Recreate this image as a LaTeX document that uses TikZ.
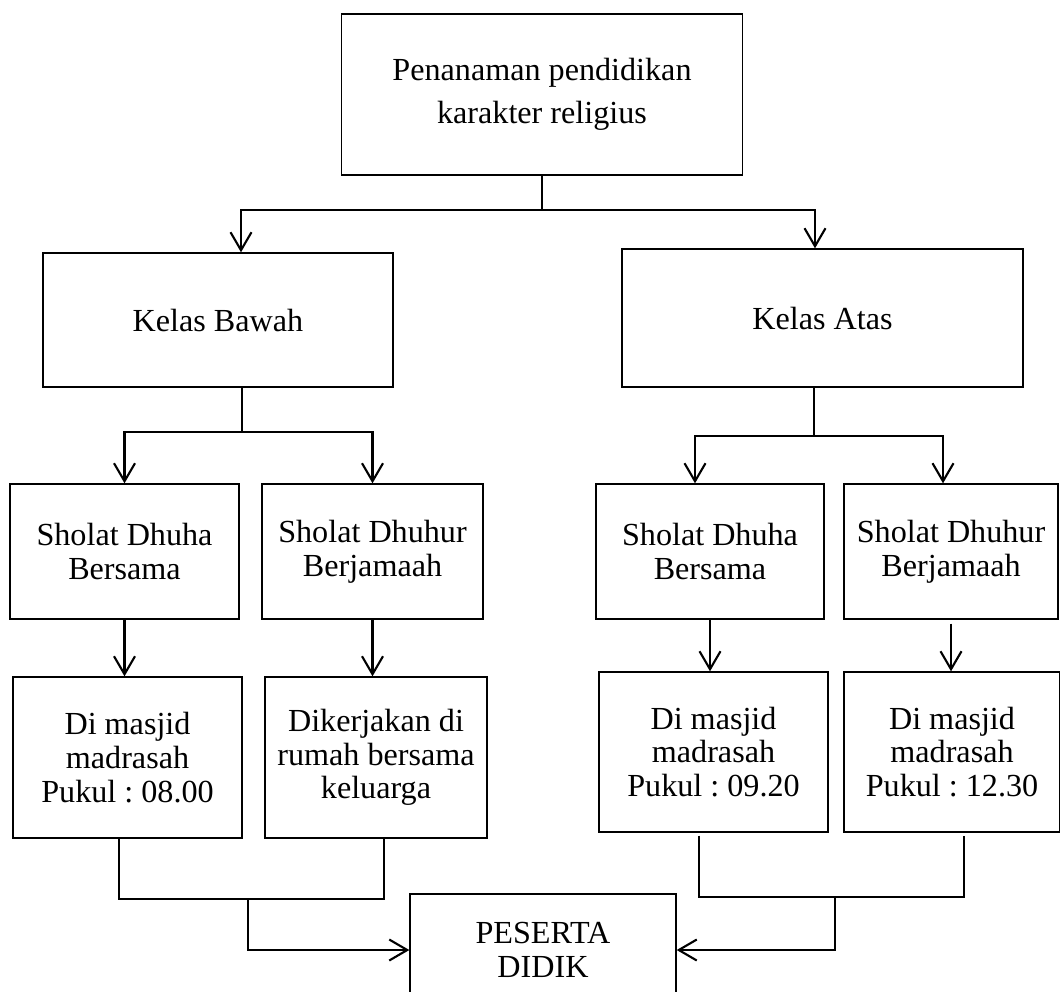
\documentclass[tikz,border=0pt]{standalone}
\usepackage{fontspec}
\setmainfont{Liberation Serif}
\frenchspacing
\usetikzlibrary{arrows.meta}

\begin{document}
\begin{tikzpicture}[x=0.02cm,y=-0.02cm,
  box/.style={draw,line width=0.8pt,align=center,inner sep=0pt,
    font=\fontsize{18.3}{19.2}\selectfont},
  line/.style={line width=1.2pt},
  arr/.style={line width=1.2pt,-{Straight Barb[length=0.36cm,width=0.42cm]}}]
\useasboundingbox (0,0) rectangle (1060,991);
% boxes
\node[box,minimum width=8.02cm,minimum height=3.22cm,font=\fontsize{18.3}{24.5}\selectfont] (top) at (542,94.5) {Penanaman pendidikan\\karakter religius};
\node[box,minimum width=7cm,minimum height=2.68cm] (kb) at (218,320) {Kelas Bawah};
\node[box,minimum width=8.02cm,minimum height=2.76cm] (ka) at (822.5,318) {Kelas Atas};
\node[box,minimum width=4.58cm,minimum height=2.7cm] (sdl) at (124.5,551.5) {Sholat Dhuha\\Bersama};
\node[box,minimum width=4.42cm,minimum height=2.7cm] (sjl) at (372.5,551.5) {Sholat Dhuhur\\Berjamaah};
\node[box,minimum width=4.56cm,minimum height=2.7cm] (sdr) at (710,551.5) {Sholat Dhuha\\Bersama};
\node[box,minimum width=4.28cm,minimum height=2.7cm] (sjr) at (951,551.5) {Sholat Dhuhur\\Berjamaah};
\node[box,minimum width=4.58cm,minimum height=3.22cm] (ml) at (127.5,757.5) {Di masjid\\madrasah\\Pukul : 08.00};
\node[box,minimum width=4.44cm,minimum height=3.22cm] (rl) at (376,757.5) {Dikerjakan di\\rumah bersama\\keluarga};
\node[box,minimum width=4.58cm,minimum height=3.2cm] (mr1) at (713.5,752) {Di masjid\\madrasah\\Pukul : 09.20};
\node[box,minimum width=4.32cm,minimum height=3.2cm] (mr2) at (952,752) {Di masjid\\madrasah\\Pukul : 12.30};
\node[box,minimum width=5.32cm,minimum height=2.24cm] (peserta) at (543,950) {PESERTA\\DIDIK};

% top split
\coordinate (t1) at (542,210);
\draw[line] (top.south) -- (t1);
\draw[arr] (t1) -| ([xshift=0.46cm]kb.north);
\draw[arr] (t1) -| ([xshift=-0.15cm]ka.north);

% kelas bawah split
\coordinate (b1) at (242,432);
\draw[line] (b1 |- kb.south) -- (b1);
\draw[arr] (b1) -| (sdl.north);
\draw[arr] (b1) -| (sjl.north);

% kelas atas split
\coordinate (a1) at (814,436);
\draw[line] (a1 |- ka.south) -- (a1);
\draw[arr] (a1) -| ([xshift=-0.3cm]sdr.north);
\draw[arr] (a1) -| ([xshift=-0.16cm]sjr.north);

% sholat to tempat
\draw[arr] (sdl.south) -- (sdl.south |- ml.north);
\draw[arr] (sjl.south) -- (sjl.south |- rl.north);
\draw[arr] (sdr.south) -- (sdr.south |- mr1.north);
\draw[arr] ([yshift=-0.08cm]sjr.south) -- (sjr.south |- mr2.north);

% join to peserta didik
\coordinate (c1) at (119,899);
\coordinate (c2) at (384,899);
\coordinate (c3) at (248,899);
\draw[line] (c1 |- ml.south) -- (c1) -- (c2) -- (c2 |- rl.south);
\draw[arr] (c3) |- (peserta);
\coordinate (c4) at (699,897);
\coordinate (c5) at (964,897);
\coordinate (c6) at (835,897);
\draw[line] ([yshift=-0.06cm]c4 |- mr1.south) -- (c4) -- (c5) -- ([yshift=-0.06cm]c5 |- mr2.south);
\draw[arr] (c6) |- (peserta);
\end{tikzpicture}
\end{document}
